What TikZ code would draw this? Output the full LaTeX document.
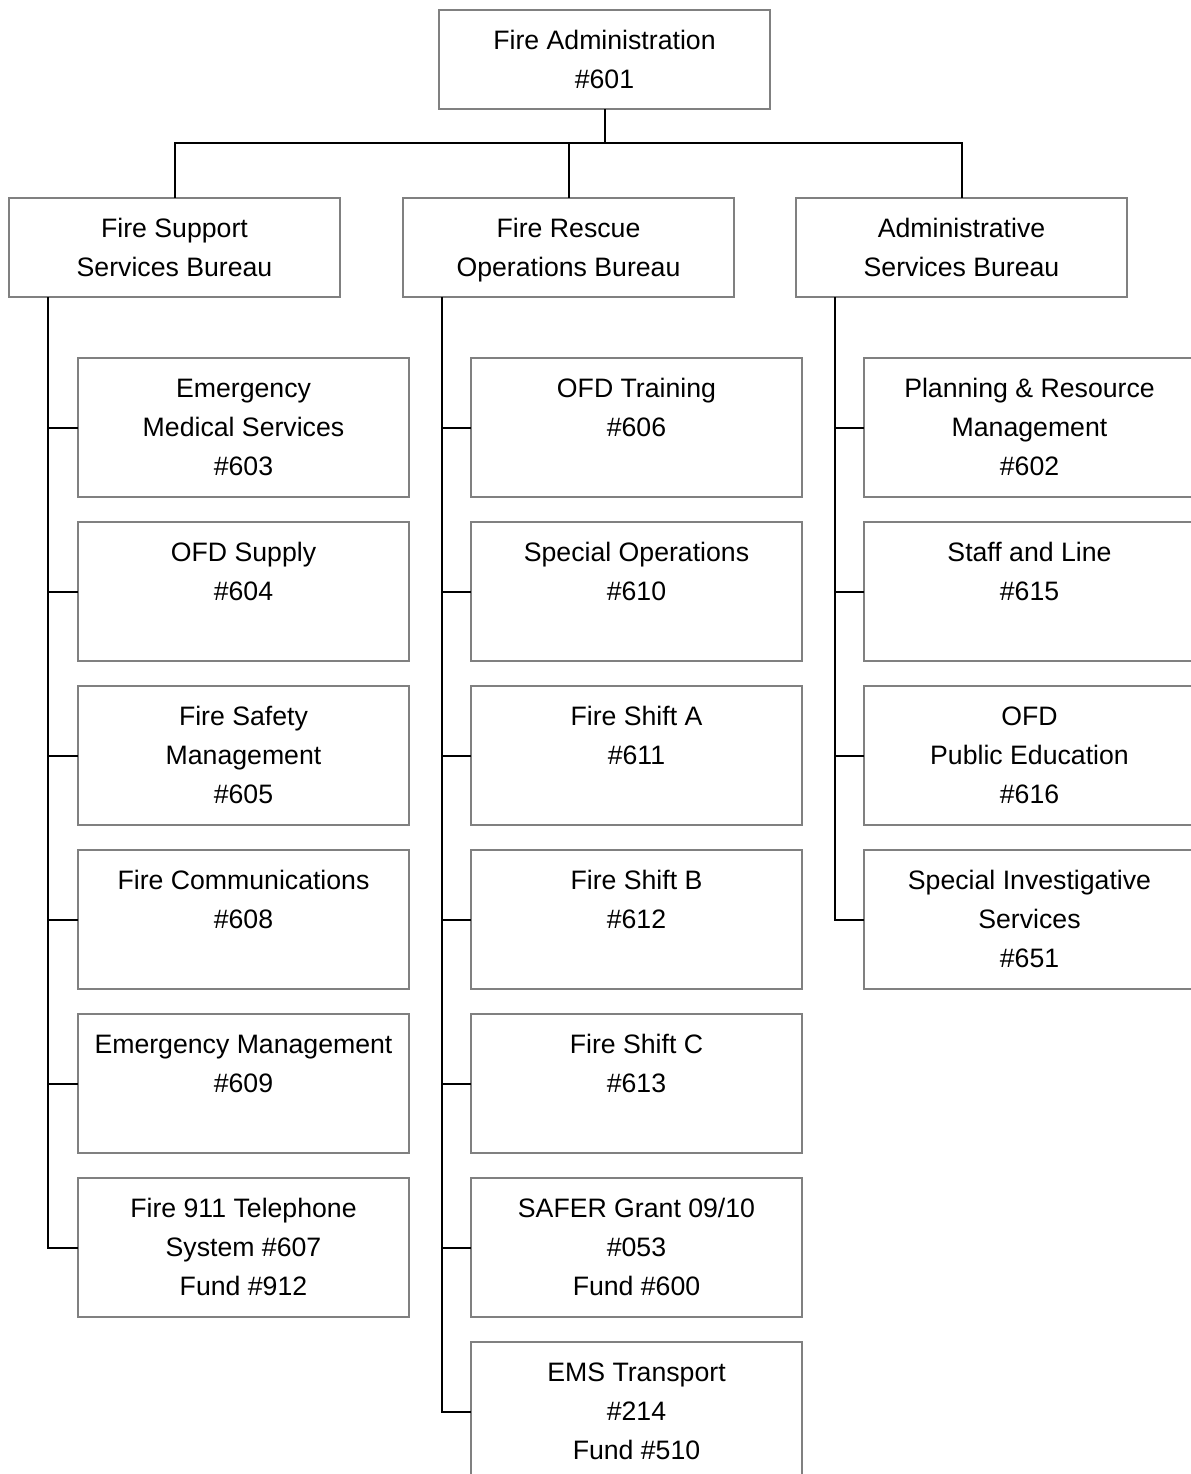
\documentclass[tikz,border=0pt]{standalone}
\usepackage{fontspec}
\setmainfont{Liberation Sans}
\usetikzlibrary{positioning,calc}

\begin{document}
\begin{tikzpicture}[x=0.75pt,y=-0.75pt, node distance=18.75pt,
 every node/.style={font=\fontsize{20}{29.25}\selectfont},
 box/.style={draw=black!50,line width=1.5pt,fill=white,align=center,minimum width=248.25pt,inner sep=2pt,outer sep=0pt,text depth=4pt},
 top/.style={box,minimum height=74.25pt,text height=47.7pt},
 unit/.style={box,minimum height=104.25pt,text height=76.2pt},
 link/.style={draw=black,line width=1.5pt}]
\clip (0,0) rectangle (1191,1474);
\fill[white] (0,0) rectangle (1191,1474);
% top and bureaus
\node[top] (admin) at (604.5,59.5) {Fire Administration\\\#601};
\node[top] (fsb) at (174.5,247.5) {Fire Support\\Services Bureau};
\node[top] (frb) at (568.5,247.5) {Fire Rescue\\Operations Bureau};
\node[top] (asb) at (961.5,247.5) {Administrative\\Services Bureau};
% support units
\node[unit] (c1) at (243.5,427.5) {Emergency\\Medical Services\\\#603};
\node[unit,below=of c1] (c2) {OFD Supply\\\#604\\~};
\node[unit,below=of c2] (c3) {Fire Safety\\Management\\\#605};
\node[unit,below=of c3] (c4) {Fire Communications\\\#608\\~};
\node[unit,below=of c4] (c5) {Emergency Management\\\#609\\~};
\node[unit,below=of c5] (c6) {Fire 911 Telephone\\System \#607\\Fund \#912};
% operations units
\node[unit] (m1) at (636.5,427.5) {OFD Training\\\#606\\~};
\node[unit,below=of m1] (m2) {Special Operations\\\#610\\~};
\node[unit,below=of m2] (m3) {Fire Shift A\\\#611\\~};
\node[unit,below=of m3] (m4) {Fire Shift B\\\#612\\~};
\node[unit,below=of m4] (m5) {Fire Shift C\\\#613\\~};
\node[unit,below=of m5] (m6) {SAFER Grant 09/10\\\#053\\Fund \#600};
\node[unit,below=of m6] (m7) {EMS Transport\\\#214\\Fund \#510};
% administrative units
\node[unit] (r1) at (1029.5,427.5) {Planning \& Resource\\Management\\\#602};
\node[unit,below=of r1] (r2) {Staff and Line\\\#615\\~};
\node[unit,below=of r2] (r3) {OFD\\Public Education\\\#616};
\node[unit,below=of r3] (r4) {Special Investigative\\Services\\\#651};
% connectors
\draw[link] (admin.south) -- ++(0,34) coordinate (hub);
\foreach \b in {fsb,frb,asb}{\draw[link] (hub) -| (\b.north);}
\draw[link] ($(fsb.south west)+(39,0)$) coordinate (t1) |- (c6.west);
\draw[link] ($(frb.south west)+(39,0)$) coordinate (t2) |- (m7.west);
\draw[link] ($(asb.south west)+(39,0)$) coordinate (t3) |- (r4.west);
\foreach \c in {c1,c2,c3,c4,c5}{\draw[link] (t1 |- \c.west) -- (\c.west);}
\foreach \c in {m1,m2,m3,m4,m5,m6}{\draw[link] (t2 |- \c.west) -- (\c.west);}
\foreach \c in {r1,r2,r3}{\draw[link] (t3 |- \c.west) -- (\c.west);}
\end{tikzpicture}
\end{document}
